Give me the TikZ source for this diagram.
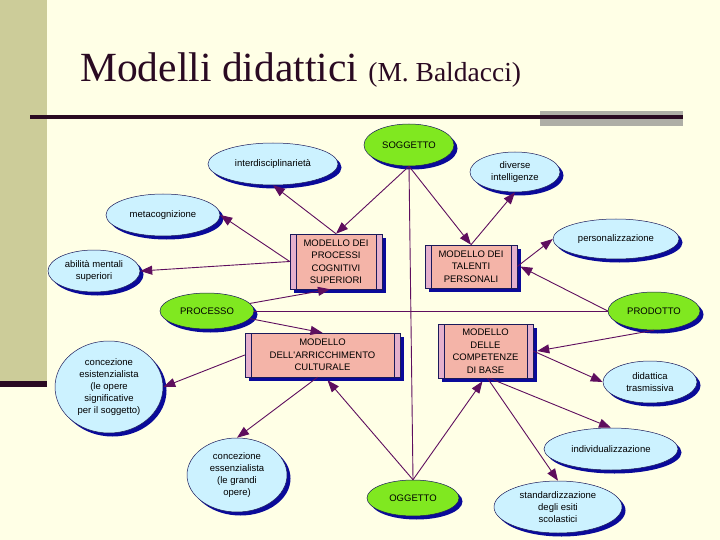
\documentclass[tikz,border=0pt]{standalone}
\usepackage{fontspec}
\setmainfont{Liberation Serif}
\newfontfamily\labelfont{Liberation Sans}
\usetikzlibrary{arrows.meta,shapes.geometric,shadows}

\definecolor{cream}{HTML}{FFFFE6}
\definecolor{khaki}{HTML}{CCCC99}
\definecolor{titleink}{HTML}{2A0A22}
\definecolor{rulegray}{HTML}{AEAEA6}
\definecolor{keygreen}{HTML}{80E820}
\definecolor{ideablue}{HTML}{CCF2FF}
\definecolor{boxpink}{HTML}{F4B4A8}
\definecolor{strippink}{HTML}{E4B0CC}
\definecolor{shadowblue}{HTML}{0A0A9A}
\definecolor{edgeblue}{HTML}{1A1A5A}
\definecolor{linkpurple}{HTML}{5E0E5E}

\tikzset{
  oval/.style={ellipse, draw=edgeblue, line width=0.5pt, inner sep=0pt, align=center,
    font=\labelfont\fontsize{9.5}{12}\selectfont,
    drop shadow={shadow xshift=3.5pt, shadow yshift=-3.5pt, fill=shadowblue, opacity=1}},
  key/.style={oval, fill=keygreen},
  idea/.style={oval, fill=ideablue},
  model/.style={rectangle, draw=edgeblue, line width=0.5pt, fill=boxpink, inner sep=0pt, align=center,
    font=\labelfont\fontsize{9.5}{12.5}\selectfont,
    drop shadow={shadow xshift=3.5pt, shadow yshift=-3.5pt, fill=shadowblue, opacity=1}},
  link/.style={draw=linkpurple, line width=0.9pt},
  arr/.style={link, -{Triangle[length=12pt,width=9pt]}}
}

\begin{document}
\begin{tikzpicture}[x=1pt,y=-1pt]
\useasboundingbox (0,0) rectangle (720,540);
\fill[cream] (0,0) rectangle (720,540);
\fill[khaki] (0,0) rectangle (47,381);
\fill[titleink] (0,381) rectangle (47,387);
% title
\node[anchor=base west, inner sep=0pt, text=titleink] (title) at (80,82)
  {\fontsize{41.5}{41.5}\selectfont Modelli didattici {\fontsize{27.5}{27.5}\selectfont (M. Baldacci)}};
\fill[rulegray] (540,111) rectangle (683,126);
\fill[titleink] (30,115) rectangle (683,119);

% poles
\node[key, minimum width=90pt, minimum height=42pt] (sog) at (409,145) {SOGGETTO};
\node[key, minimum width=92pt, minimum height=36pt] (ogg) at (413,498) {OGGETTO};
\node[key, minimum width=94pt, minimum height=36pt] (pro) at (207,311) {PROCESSO};
\node[key, minimum width=92pt, minimum height=38pt] (prd) at (654,311) {PRODOTTO};

% models
\node[model, minimum width=92pt, minimum height=55pt] (pc) at (336,261.5) {MODELLO DEI\\PROCESSI\\COGNITIVI\\SUPERIORI};
\node[model, minimum width=92pt, minimum height=43pt] (tp) at (471,266.5) {MODELLO DEI\\TALENTI\\PERSONALI};
\node[model, minimum width=155pt, minimum height=44pt] (ac) at (322.5,355) {MODELLO\\DELL'ARRICCHIMENTO\\CULTURALE};
\node[model, minimum width=95pt, minimum height=54pt] (cb) at (485.5,351) {MODELLO\\DELLE\\COMPETENZE\\DI BASE};
\foreach \m in {pc,tp,ac,cb} {
  \draw[draw=edgeblue, line width=0.5pt, fill=strippink] (\m.north west) rectangle ([xshift=6pt]\m.south west);
  \draw[draw=edgeblue, line width=0.5pt, fill=strippink] (\m.north east) rectangle ([xshift=-6pt]\m.south east);
}

% ideas
\node[idea, minimum width=130pt, minimum height=42pt] (inter) at (273,164) {interdisciplinarietà};
\node[idea, minimum width=114pt, minimum height=42pt] (meta) at (163,215) {metacognizione};
\node[idea, minimum width=92pt, minimum height=42pt] (abil) at (94,271) {abilità mentali\\superiori};
\node[idea, minimum width=90pt, minimum height=40pt] (div) at (515,172) {diverse\\intelligenze};
\node[idea, minimum width=126pt, minimum height=40pt] (pers) at (616,239) {personalizzazione};
\node[idea, minimum width=94pt, minimum height=42pt] (didt) at (650,382) {didattica\\trasmissiva};
\node[idea, minimum width=134pt, minimum height=42pt] (indv) at (611,449) {individualizzazione};
\node[idea, minimum width=128pt, minimum height=52pt] (std) at (558,507) {standardizzazione\\degli esiti\\scolastici};
\node[idea, minimum width=108pt, minimum height=92pt] (esist) at (109,387) {concezione\\esistenzialista\\(le opere\\significative\\per il soggetto)};
\node[idea, minimum width=100pt, minimum height=74pt] (essen) at (237,475) {concezione\\essenzialista\\(le grandi\\opere)};

% axes
\draw[link] (sog.south) -- (ogg.north);
\draw[link] (pro.east) -- (prd.west);

% connectors
\draw[arr] (sog.south) -- (pc.north);
\draw[arr] (sog.south) -- (tp.north);
\draw[arr] (pc.north) -- (inter.south);
\draw[arr] (pc.west) -- (meta.east);
\draw[arr] (pc.west) -- (abil.east);
\draw[arr] (pro.10) -- ([xshift=-6pt]pc.south);
\draw[arr] (pro.-10) -- (ac.north);
\draw[arr] (ac.west) -- (esist.east);
\draw[arr] ([xshift=-5pt]ac.south) -- (essen.north);
\draw[arr] (ogg.north) -- ([xshift=5pt,yshift=-3pt]ac.south);
\draw[arr] (ogg.north) -- ([xshift=-3pt,yshift=-3pt]cb.south);
\draw[arr] ([xshift=2pt]cb.south) -- (std.north);
\draw[arr] ([xshift=4pt]cb.south) -- (indv.north);
\draw[arr] (cb.east) -- (didt.west);
\draw[arr] (prd.south) -- ([xshift=4pt]cb.east);
\draw[arr] (prd.west) -- ([xshift=3pt]tp.east);
\draw[arr] (tp.east) -- (pers.west);
\draw[arr] (tp.north) -- (div.south);
\end{tikzpicture}
\end{document}
